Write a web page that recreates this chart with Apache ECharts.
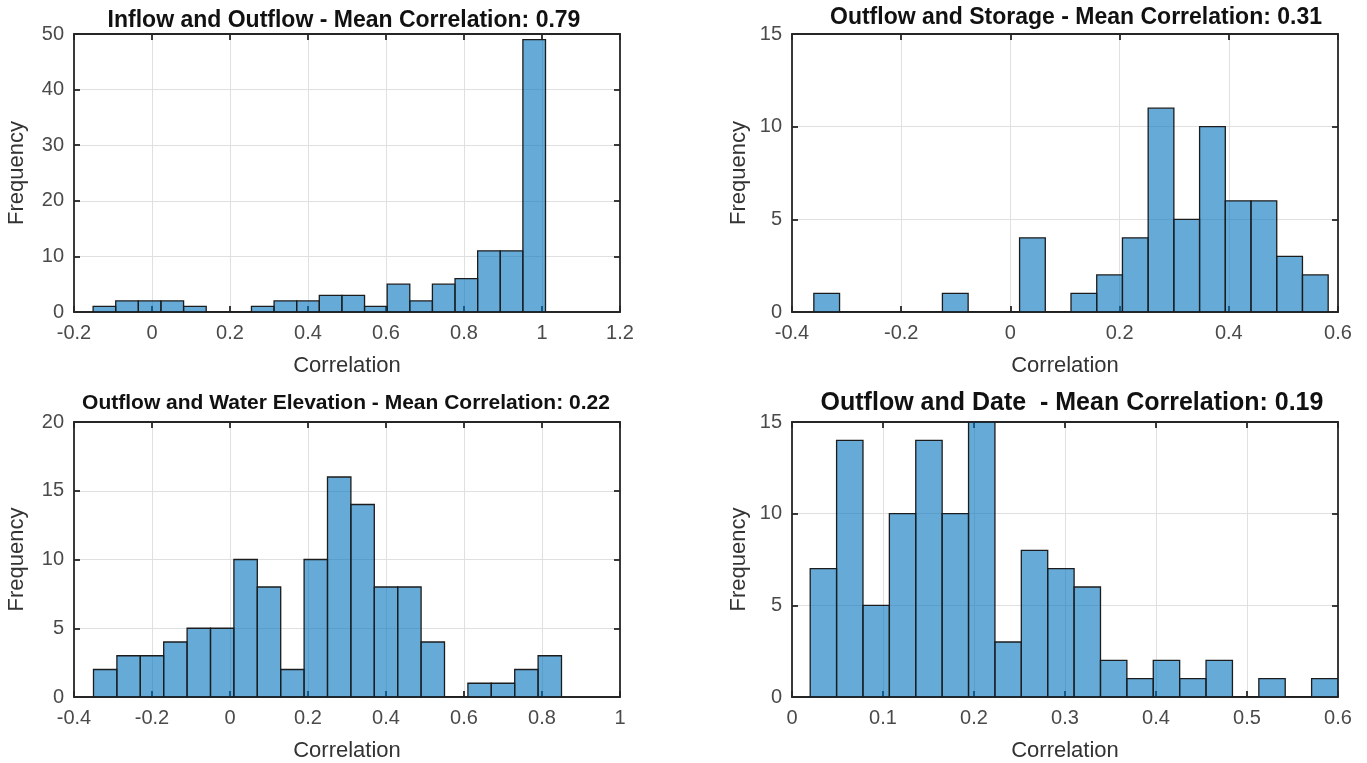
<!DOCTYPE html>
<html>
<head>
<meta charset="utf-8">
<title>Outflow correlation histograms</title>
<script src="https://cdn.jsdelivr.net/npm/echarts@6/dist/echarts.min.js"></script>
<style>
    html, body { margin: 0; padding: 0; background: #fff; }
    #chart { width: 1367px; height: 763px; }
</style>
</head>
<body>
<div id="chart"></div>
<script>
/* ------ data ------ */

var inflowOutflowCounts    = [1, 2, 2, 2, 1, 0, 0, 1, 2, 2, 3, 3, 1, 5, 2, 5, 6, 11, 11, 49];
var outflowStorageCounts   = [1, 0, 0, 0, 0, 1, 0, 0, 4, 0, 1, 2, 4, 11, 5, 10, 6, 6, 3, 2];
var outflowElevationCounts = [2, 3, 3, 4, 5, 5, 10, 8, 2, 10, 16, 14, 8, 8, 4, 0, 1, 1, 2, 3];
var outflowDateCounts      = [7, 14, 5, 10, 14, 10, 15, 3, 8, 7, 6, 2, 1, 2, 1, 2, 0, 1, 0, 1];

// left edge of the first bin and the bin width, per panel
var binStarts = [-0.151, -0.36, -0.35, 0.02];
var binWidths = [0.058, 0.0471, 0.06, 0.029];

var titles = [
    'Inflow and Outflow - Mean Correlation: 0.79',
    'Outflow and Storage - Mean Correlation: 0.31',
    'Outflow and Water Elevation - Mean Correlation: 0.22',
    'Outflow and Date  - Mean Correlation: 0.19'
];

// axis ranges / tick steps
var xMins  = [-0.2, -0.4, -0.4, 0];
var xMaxes = [1.2, 0.6, 1, 0.6];
var xSteps = [0.2, 0.2, 0.2, 0.1];
var yMaxes = [50, 15, 20, 15];
var ySteps = [10, 5, 5, 5];

var allCounts = [inflowOutflowCounts, outflowStorageCounts, outflowElevationCounts, outflowDateCounts];

/* ------ layout ------ */

var FONT = '"Liberation Sans", Arial, Helvetica, sans-serif';
var AXIS_COLOR = '#262626';

var panels = [
    {left: 74,  top: 34,  height: 278, titleX: 344,  titleY: 9,   titleSize: 23, yGap: 46},
    {left: 792, top: 34,  height: 278, titleX: 1076, titleY: 6,   titleSize: 23, yGap: 42},
    {left: 74,  top: 422, height: 276, titleX: 346,  titleY: 393, titleSize: 21, yGap: 46},
    {left: 792, top: 422, height: 276, titleX: 1072, titleY: 391, titleSize: 25, yGap: 42}
];

function renderBin(params, api) {
    var lo = api.coord([api.value(0), api.value(2)]);
    var hi = api.coord([api.value(1), 0]);
    return {
        type: 'rect',
        shape: {x: lo[0], y: lo[1], width: hi[0] - lo[0], height: hi[1] - lo[1]},
        style: {fill: 'rgba(0,114,189,0.6)', stroke: '#1c1c1c', lineWidth: 1.3}
    };
}

var lineStyle = {color: AXIS_COLOR, width: 1.8};

var option = {
    backgroundColor: '#fff',
    animation: false,
    title: [],
    grid: [],
    xAxis: [],
    yAxis: [],
    series: []
};

panels.forEach(function (p, i) {
    option.title.push({
        text: titles[i],
        left: p.titleX,
        top: p.titleY,
        padding: 0,
        textAlign: 'center',
        textStyle: {fontFamily: FONT, fontSize: p.titleSize, fontWeight: 'bold', color: '#111'}
    });

    option.grid.push({left: p.left, top: p.top, width: 546, height: p.height});

    // bottom axis with labels, top axis only for the inward ticks
    option.xAxis.push({
        type: 'value', gridIndex: i, position: 'bottom',
        min: xMins[i], max: xMaxes[i], interval: xSteps[i],
        name: 'Correlation', nameLocation: 'middle', nameGap: 43,
        nameTextStyle: {fontFamily: FONT, fontSize: 22, color: '#333'},
        axisLine: {show: true, onZero: false, lineStyle: lineStyle},
        axisTick: {show: true, inside: true, length: 6, lineStyle: lineStyle},
        axisLabel: {fontFamily: FONT, fontSize: 20, color: '#4a4a4a', margin: 11,
            showMinLabel: true, showMaxLabel: true},
        splitLine: {show: true, lineStyle: {color: '#e0e0e0', width: 1}}
    });
    option.xAxis.push({
        type: 'value', gridIndex: i, position: 'top',
        min: xMins[i], max: xMaxes[i], interval: xSteps[i],
        axisLine: {show: true, onZero: false, lineStyle: lineStyle},
        axisTick: {show: true, inside: true, length: 6, lineStyle: lineStyle},
        axisLabel: {show: false},
        splitLine: {show: false}
    });

    option.yAxis.push({
        type: 'value', gridIndex: i, position: 'left',
        min: 0, max: yMaxes[i], interval: ySteps[i],
        name: 'Frequency', nameLocation: 'middle', nameGap: p.yGap,
        nameTextStyle: {fontFamily: FONT, fontSize: 22, color: '#333'},
        axisLine: {show: true, onZero: false, lineStyle: lineStyle},
        axisTick: {show: true, inside: true, length: 6, lineStyle: lineStyle},
        axisLabel: {fontFamily: FONT, fontSize: 20, color: '#4a4a4a', margin: 10,
            showMinLabel: true, showMaxLabel: true},
        splitLine: {show: true, lineStyle: {color: '#e0e0e0', width: 1}}
    });
    option.yAxis.push({
        type: 'value', gridIndex: i, position: 'right',
        min: 0, max: yMaxes[i], interval: ySteps[i],
        axisLine: {show: true, onZero: false, lineStyle: lineStyle},
        axisTick: {show: true, inside: true, length: 6, lineStyle: lineStyle},
        axisLabel: {show: false},
        splitLine: {show: false}
    });

    var data = allCounts[i].map(function (c, k) {
        var x0 = binStarts[i] + k * binWidths[i];
        return [x0, x0 + binWidths[i], c];
    });

    option.series.push({
        type: 'custom',
        xAxisIndex: 2 * i,
        yAxisIndex: 2 * i,
        renderItem: renderBin,
        encode: {x: [0, 1], y: 2},
        clip: true,
        data: data
    });
});

var chart = echarts.init(document.getElementById('chart'));
chart.setOption(option);
</script>
</body>
</html>
